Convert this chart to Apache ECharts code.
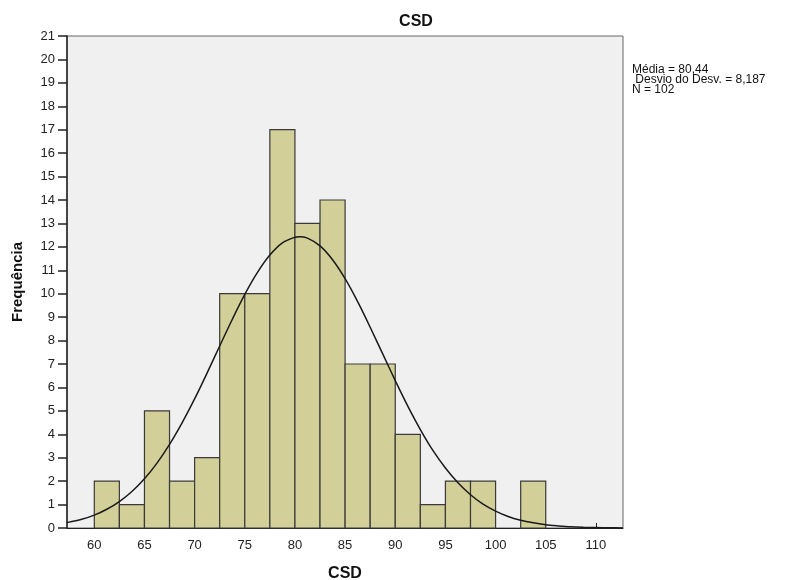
<!DOCTYPE html>
<html>
<head>
<meta charset="utf-8">
<script src="https://cdn.jsdelivr.net/npm/echarts@6/dist/echarts.min.js"></script>
<style>html,body{margin:0;padding:0;background:#fff}#c{width:798px;height:580px}</style>
</head>
<body>
<div id="c"></div>
<script>
// Histogram bins (start of each bin) and frequencies
const binStart = [60, 62.5, 65, 67.5, 70, 72.5, 75, 77.5, 80, 82.5, 85, 87.5, 90, 92.5, 95, 97.5, 100, 102.5];
const counts   = [2, 1, 5, 2, 3, 10, 10, 17, 13, 14, 7, 7, 4, 1, 2, 2, 0, 2];
const binWidth = 2.5;
// Normal curve points
const curveX = [57.28, 58.75, 60, 61.25, 62.5, 63.75, 65, 66.25, 67.5, 68.75, 70, 71.25, 72.5, 73.75, 75, 76.25, 77.5, 78.75, 80, 80.44, 81.25, 82.5, 83.75, 85, 86.25, 87.5, 88.75, 90, 91.25, 92.5, 93.75, 95, 96.25, 97.5, 98.75, 100, 101.25, 102.5, 103.75, 105, 106.25, 107.5, 108.75, 110, 111.25, 112.7];
const curveY = [0.23, 0.37, 0.55, 0.80, 1.13, 1.56, 2.10, 2.77, 3.57, 4.49, 5.51, 6.62, 7.77, 8.90, 9.97, 10.90, 11.65, 12.17, 12.41, 12.43, 12.37, 12.04, 11.45, 10.64, 9.66, 8.57, 7.43, 6.29, 5.20, 4.20, 3.31, 2.56, 1.93, 1.42, 1.02, 0.72, 0.49, 0.33, 0.22, 0.14, 0.09, 0.05, 0.03, 0.02, 0.01, 0.005];
const xTicks = [60, 65, 70, 75, 80, 85, 90, 95, 100, 105, 110];
const statsLines = ['Média = 80,44', ' Desvio do Desv. = 8,187', 'N = 102'];

const barData = [];
for (let i = 0; i < binStart.length; i++) {
  if (counts[i] > 0) barData.push([binStart[i], binStart[i] + binWidth, counts[i]]);
}
const lineData = curveX.map((x, i) => [x, curveY[i]]);

const chart = echarts.init(document.getElementById('c'));
chart.setOption({
  animation: false,
  backgroundColor: '#ffffff',
  title: {
    text: 'CSD', left: 411, top: 9, textAlign: 'center',
    textStyle: { fontFamily: 'Arial, Liberation Sans', fontSize: 16, fontWeight: 'bold', color: '#111' }
  },
  grid: {
    left: 67, right: 175, top: 36, bottom: 52,
    outerBoundsMode: 'none', containLabel: false,
    show: true, backgroundColor: '#F0F0F0', borderColor: '#666', borderWidth: 1
  },
  xAxis: {
    type: 'value', min: 57.28, max: 112.7,
    name: 'CSD', nameLocation: 'middle', nameGap: 38,
    nameTextStyle: { fontFamily: 'Arial, Liberation Sans', fontSize: 16, fontWeight: 'bold', color: '#111' },
    axisLine: { show: true, lineStyle: { color: '#222', width: 1 } },
    axisTick: { show: true, inside: true, length: 5, customValues: xTicks, lineStyle: { color: '#222' } },
    axisLabel: { customValues: xTicks, fontFamily: 'Arial, Liberation Sans', fontSize: 13, color: '#222', margin: 11 },
    splitLine: { show: false }
  },
  yAxis: {
    type: 'value', min: 0, max: 21, interval: 1,
    name: 'Frequência', nameLocation: 'middle', nameGap: 42, nameRotate: 90,
    nameTextStyle: { fontFamily: 'Arial, Liberation Sans', fontSize: 15, fontWeight: 'bold', color: '#111' },
    axisLine: { show: true, lineStyle: { color: '#222', width: 1.5 } },
    axisTick: { show: true, inside: false, length: 9, lineStyle: { color: '#222', width: 1.5 } },
    axisLabel: { fontFamily: 'Arial, Liberation Sans', fontSize: 13, color: '#222', margin: 12 },
    splitLine: { show: false }
  },
  graphic: [{
    type: 'text', left: 632, top: 64,
    style: { text: statsLines.join('\n'), font: '12px Arial, Liberation Sans', fill: '#111', lineHeight: 10 }
  }],
  series: [{
    type: 'custom',
    data: barData,
    encode: { x: [0, 1], y: 2 },
    renderItem: function (params, api) {
      const p0 = api.coord([api.value(0), api.value(2)]);
      const p1 = api.coord([api.value(1), 0]);
      return {
        type: 'rect',
        shape: { x: p0[0], y: p0[1], width: p1[0] - p0[0], height: p1[1] - p0[1] },
        style: { fill: '#D3CF98', stroke: '#3a3a3a', lineWidth: 1.2 }
      };
    },
    z: 2
  }, {
    type: 'line',
    data: lineData,
    smooth: 0.3,
    showSymbol: false,
    symbol: 'none',
    lineStyle: { color: '#1a1a1a', width: 1.5 },
    z: 3
  }]
});
</script>
</body>
</html>
